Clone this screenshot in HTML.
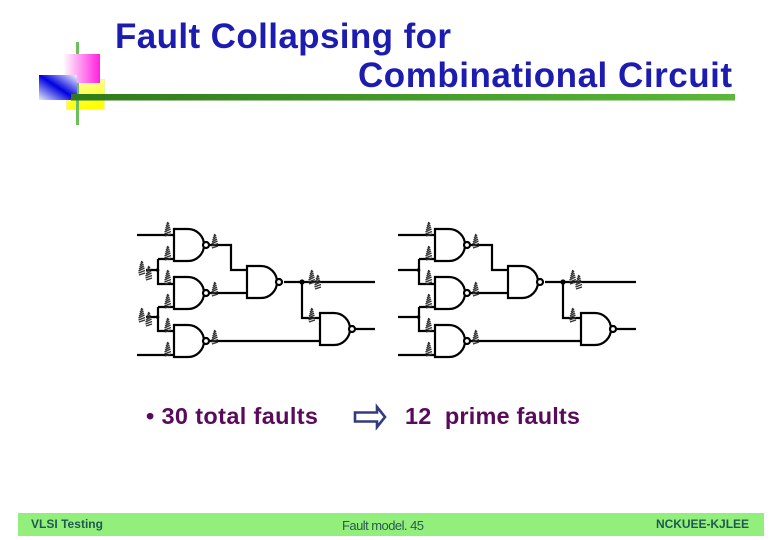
<!DOCTYPE html>
<html><head><meta charset="utf-8"><style>
html,body{margin:0;padding:0;background:#fff}
svg{display:block}
text{font-family:"Liberation Sans",sans-serif}
</style></head><body>
<svg width="780" height="540" viewBox="0 0 780 540" xmlns="http://www.w3.org/2000/svg">
<defs>
<linearGradient id="pk" x1="0" x2="1" y1="0" y2="0"><stop offset="0" stop-color="#fff"/><stop offset="1" stop-color="#ff20e0"/></linearGradient>
<linearGradient id="yl" x1="0" x2="0.3" y1="0" y2="1"><stop offset="0" stop-color="#ffffc0"/><stop offset="1" stop-color="#ffff00"/></linearGradient>
<linearGradient id="bl" x1="0" x2="1" y1="1" y2="0"><stop offset="0" stop-color="#e8ecfb"/><stop offset=".5" stop-color="#0000e0"/><stop offset="1" stop-color="#f4f6fd"/></linearGradient>
<linearGradient id="gl" x1="0" x2="1" y1="0" y2="0"><stop offset="0" stop-color="#2f7a1c"/><stop offset="1" stop-color="#5cb83a"/></linearGradient>
<g id="m" fill="none" stroke="#333" stroke-width="1.400">
<path d="M-3 7L3 5M-3.500 5L3 2.500M-3.500 3L2.500 0M-3 1L2 -2M-2.500 -1L1.500 -4M-2 -3L1 -6M-1 -5L0 -7"/>
</g>
<g id="g"><path d="M0 0H14A16 16 0 0 1 14 32H0Z" fill="#fff" stroke="#000" stroke-width="2.200"/><circle cx="32" cy="16" r="3" fill="#fff" stroke="#000" stroke-width="2.200"/></g>
<g id="c">
<path d="M158 259H174M158 259V284H174M158 307H174M158 307V331H174M210 245H231V270H247M210 293H247M210 341H320M284 282H375M302 282V318H320M356 329H375" fill="none" stroke="#000" stroke-width="2.200"/>
<circle cx="157.500" cy="270" r="1.800"/><circle cx="157.500" cy="317" r="1.800"/><circle cx="302" cy="282" r="2.600"/>
<use href="#g" x="174" y="229"/><use href="#g" x="174" y="277"/><use href="#g" x="174" y="325"/>
<use href="#g" x="247" y="266"/><use href="#g" x="320" y="313"/>
<use href="#m" x="168" y="229"/><use href="#m" x="168" y="253"/><use href="#m" x="168" y="277"/><use href="#m" x="168" y="301"/><use href="#m" x="168" y="325"/><use href="#m" x="168" y="349"/>
<use href="#m" x="215" y="241"/><use href="#m" x="215" y="289"/><use href="#m" x="215" y="337"/>
<use href="#m" x="312" y="277"/><use href="#m" x="312" y="315"/>
</g>
</defs>

<rect x="66.500" y="79.500" width="38" height="30" fill="url(#yl)" stroke="#f4f4a0"/>
<rect x="76" y="42" width="3" height="83" fill="#6cc05c"/>
<rect x="63" y="54" width="37" height="29" fill="url(#pk)"/>
<rect x="39" y="75" width="38" height="25" fill="url(#bl)"/>
<rect x="71" y="94" width="664" height="6.500" fill="url(#gl)"/>

<text x="115" y="48" font-size="35" font-weight="700" fill="#1c1cb0" textLength="336" lengthAdjust="spacing">Fault Collapsing for</text>
<text x="358" y="87" font-size="35" font-weight="700" fill="#1c1cb0" textLength="374" lengthAdjust="spacing">Combinational Circuit</text>

<path d="M137 235H174M137 355H174M146 270H158M146 317H158" stroke="#000" stroke-width="2.200"/>
<use href="#c"/>
<use href="#m" x="142" y="268"/><use href="#m" x="149" y="273"/><use href="#m" x="142" y="315"/><use href="#m" x="149" y="319"/>
<use href="#m" x="318" y="282"/>

<path d="M398 235H435M398 355H435M398 270H419M398 317H419" stroke="#000" stroke-width="2.200"/>
<use href="#c" x="261"/>
<use href="#m" x="579" y="282"/>

<text x="146" y="424" font-size="23.500" font-weight="700" fill="#5a0a5a" textLength="172" lengthAdjust="spacing">• 30 total faults</text>
<text x="405" y="424" font-size="23.500" font-weight="700" fill="#5a0a5a" textLength="175" lengthAdjust="spacing" xml:space="preserve">12  prime faults</text>
<path d="M355 412.500H377V407L385 417L377 427V421.500H355Z" fill="#fff" stroke="#333a80" stroke-width="2.600"/>

<rect x="18" y="513" width="746" height="23" fill="#93ef7b"/>
<text x="31" y="528" font-size="12" font-weight="700" fill="#1f5a50" textLength="72" lengthAdjust="spacing">VLSI Testing</text>
<text x="342" y="530" font-size="13" fill="#2a5a50" textLength="82" lengthAdjust="spacing">Fault model. 45</text>
<text x="656" y="528" font-size="12" font-weight="700" fill="#1f5a50" textLength="93" lengthAdjust="spacing">NCKUEE-KJLEE</text>
</svg>
</body></html>
